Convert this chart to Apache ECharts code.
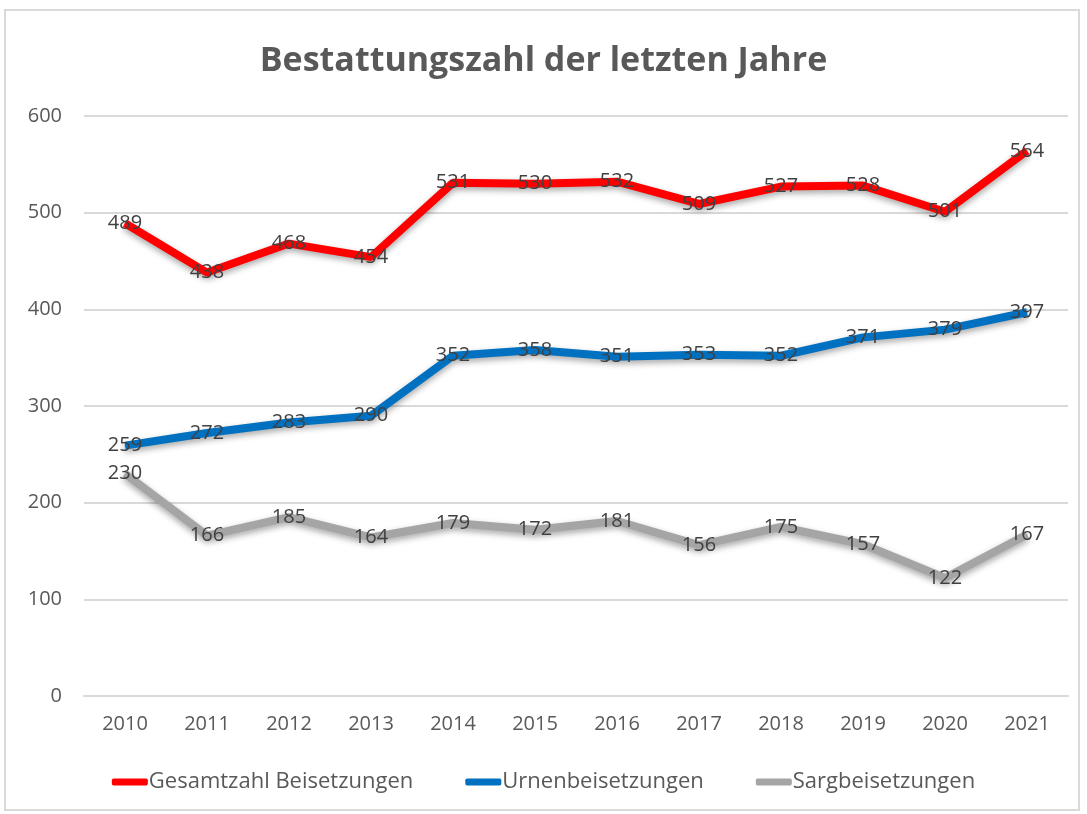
<!DOCTYPE html>
<html>
<head>
<meta charset="utf-8">
<script src="https://cdn.jsdelivr.net/npm/echarts@6/dist/echarts.min.js"></script>
<style>
  html, body { margin: 0; padding: 0; background: #fff; }
  #frame { position: absolute; left: 4px; top: 9px; width: 1076px; height: 802px; border: 2px solid #d9d9d9; box-sizing: border-box; }
  #main { width: 1087px; height: 814px; position: absolute; left: 0; top: 0; }
</style>
</head>
<body>
<div id="frame"></div>
<div id="main"></div>
<script>
// Daten
var jahre = ['2010', '2011', '2012', '2013', '2014', '2015', '2016', '2017', '2018', '2019', '2020', '2021'];
var gesamt = [489, 438, 468, 454, 531, 530, 532, 509, 527, 528, 501, 564];
var urnen = [259, 272, 283, 290, 352, 358, 351, 353, 352, 371, 379, 397];
var sarg = [230, 166, 185, 164, 179, 172, 181, 156, 175, 157, 122, 167];

var myChart = echarts.init(document.getElementById('main'));

function linie(name, data, farbe) {
  return {
    name: name,
    type: 'line',
    data: data,
    symbol: 'circle',
    symbolSize: 1,
    itemStyle: { color: farbe },
    lineStyle: {
      width: 8,
      color: farbe,
      shadowColor: 'rgba(0,0,0,0.35)',
      shadowBlur: 6,
      shadowOffsetY: 3
    },
    label: {
      show: true,
      position: 'inside',
      color: '#404040',
      fontSize: 20,
      fontFamily: 'Open Sans'
    },
    emphasis: { disabled: true },
    z: 2
  };
}

myChart.setOption({
  animation: false,
  title: {
    text: 'Bestattungszahl der letzten Jahre',
    left: 'center',
    top: 39,
    textStyle: { fontSize: 34, fontWeight: 'bold', color: '#595959', fontFamily: 'Open Sans' }
  },
  legend: {
    bottom: 16,
    left: 'center',
    itemGap: 52,
    itemWidth: 36,
    itemHeight: 7,
    icon: 'roundRect',
    textStyle: { fontSize: 22, color: '#595959', fontFamily: 'Open Sans', padding: [0, 0, 0, -4] },
    data: ['Gesamtzahl Beisetzungen', 'Urnenbeisetzungen', 'Sargbeisetzungen']
  },
  grid: { left: 84, right: 19, top: 116, bottom: 118 },
  xAxis: {
    type: 'category',
    data: jahre,
    boundaryGap: true,
    axisLine: { lineStyle: { color: '#d9d9d9', width: 2 } },
    axisTick: { show: false },
    axisLabel: { fontSize: 20, color: '#595959', fontFamily: 'Open Sans', margin: 18 }
  },
  yAxis: {
    type: 'value',
    min: 0,
    max: 600,
    interval: 100,
    axisLine: { show: false },
    axisTick: { show: false },
    splitLine: { lineStyle: { color: '#d9d9d9', width: 2 } },
    axisLabel: { fontSize: 20, color: '#595959', fontFamily: 'Open Sans', margin: 22 }
  },
  series: [
    linie('Gesamtzahl Beisetzungen', gesamt, '#ff0000'),
    linie('Urnenbeisetzungen', urnen, '#0070c0'),
    linie('Sargbeisetzungen', sarg, '#a5a5a5')
  ]
});
</script>
</body>
</html>
